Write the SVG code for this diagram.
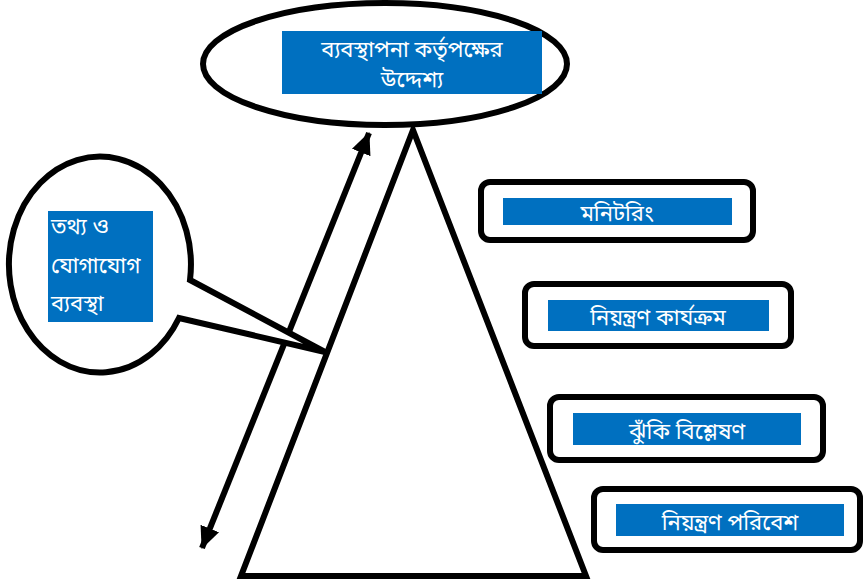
<svg xmlns="http://www.w3.org/2000/svg" width="863" height="584" viewBox="0 0 863 584">
<style>
.ln{fill:none;stroke:#000;stroke-width:6;stroke-linejoin:miter}
.sh{fill:#fff;stroke:#000;stroke-width:6}
.bx{fill:#fff;stroke:#000;stroke-width:6}
.bl{fill:#0070C0}
.t{font-family:"Noto Sans Bengali","Noto Sans","DejaVu Sans",sans-serif;fill:#fff;font-size:22px}
</style>
<defs>
<marker id="ah" viewBox="0 0 22 20" refX="21" refY="10" markerWidth="22" markerHeight="20" orient="auto-start-reverse" markerUnits="userSpaceOnUse">
<path d="M0,0 L22,10 L0,20 z" fill="#000"/>
</marker>
</defs>
<g id="pyramid">
<polygon class="ln" points="413,130 241,576 586,576"/>
</g>
<g id="goal">
<ellipse class="sh" cx="385" cy="64" rx="182" ry="61"/>
<rect class="bl" x="282" y="31" width="260" height="63"/>
<text class="t" x="412" y="57" text-anchor="middle">ব্যবস্থাপনা কর্তৃপক্ষের</text>
<text class="t" x="412" y="87" text-anchor="middle">উদ্দেশ্য</text>
</g>
<g id="connectors">
<line class="ln" x1="369" y1="133" x2="202" y2="548" marker-start="url(#ah)" marker-end="url(#ah)"/>
</g>
<g id="info">
<path class="sh" d="M190,280 A91,108 0 1 0 179,318 L325,352 Z"/>
<rect class="bl" x="48" y="211" width="105" height="111"/>
<text class="t" x="51" y="234" font-size="20">তথ্য ও</text>
<text class="t" x="51" y="273" font-size="20">যোগাযোগ</text>
<text class="t" x="51" y="311" font-size="20">ব্যবস্থা</text>
</g>
<g id="monitoring">
<rect class="bx" x="481" y="182" width="272" height="58" rx="9"/>
<rect class="bl" x="503" y="198" width="229" height="27"/>
<text class="t" x="617" y="221" text-anchor="middle">মনিটরিং</text>
</g>
<g id="control-activities">
<rect class="bx" x="525" y="284" width="266" height="62" rx="9"/>
<rect class="bl" x="548" y="300" width="221" height="31"/>
<text class="t" x="658" y="325" text-anchor="middle">নিয়ন্ত্রণ কার্যক্রম</text>
</g>
<g id="risk">
<rect class="bx" x="550" y="397" width="273" height="63" rx="9"/>
<rect class="bl" x="573" y="413" width="228" height="32"/>
<text class="t" x="687" y="439" text-anchor="middle">ঝুঁকি বিশ্লেষণ</text>
</g>
<g id="environment">
<rect class="bx" x="594" y="489" width="266" height="61" rx="9"/>
<rect class="bl" x="616" y="504" width="228" height="32"/>
<text class="t" x="730" y="530" text-anchor="middle">নিয়ন্ত্রণ পরিবেশ</text>
</g>
</svg>
